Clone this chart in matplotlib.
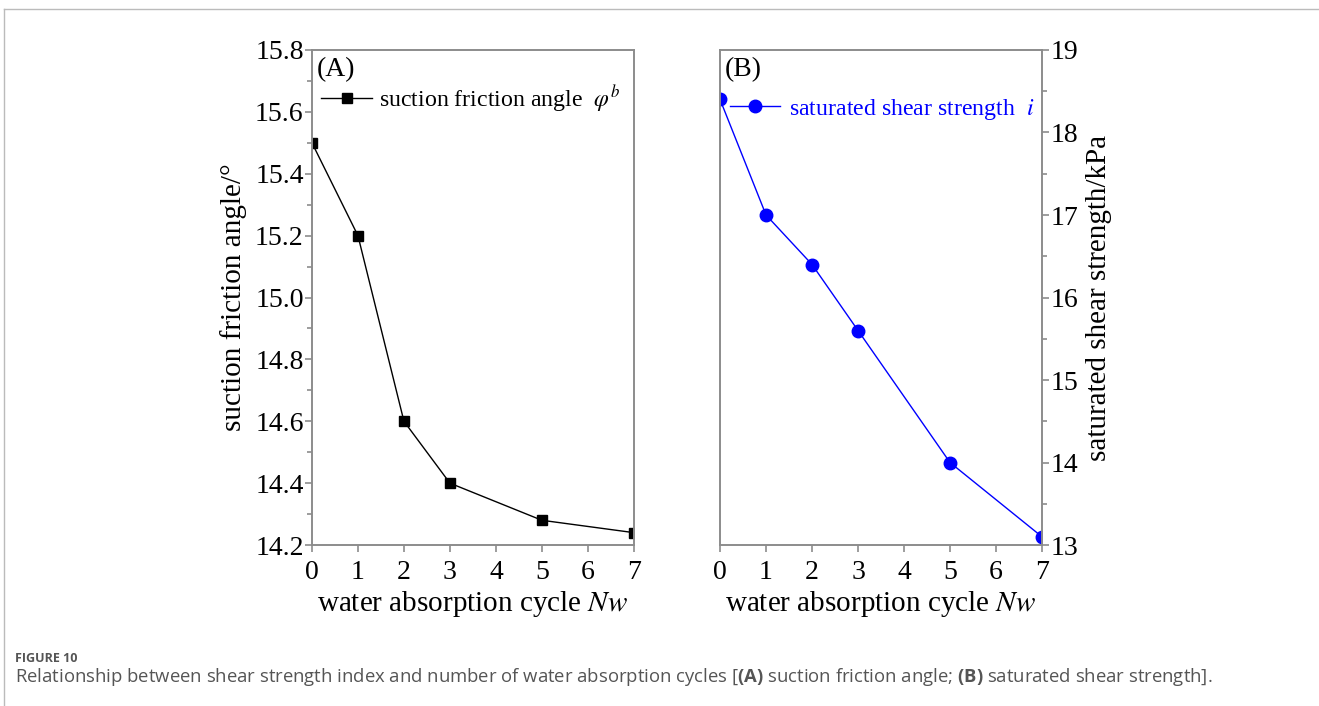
import matplotlib
matplotlib.use("Agg")
import matplotlib.pyplot as plt
from matplotlib.lines import Line2D
from matplotlib.ticker import MultipleLocator

# Daten aus der Abbildung
zyklen = [0, 1, 2, 3, 5, 7]
saug_winkel = [15.5, 15.2, 14.6, 14.4, 14.28, 14.24]
scherfestigkeit = [18.4, 17.0, 16.4, 15.6, 14.0, 13.1]
x_ticks = [0, 1, 2, 3, 4, 5, 6, 7]

plt.rcParams['font.family'] = ['Liberation Serif', 'DejaVu Serif']
plt.rcParams['mathtext.fontset'] = 'stix'
# fuer die Bildunterschrift (fett gesetzte (A)/(B))
plt.rcParams['mathtext.rm'] = 'Open Sans'
plt.rcParams['mathtext.bf'] = 'Open Sans:bold'

GRAU = '#8c8c8c'

fig = plt.figure(figsize=(13.19, 7.06), dpi=100)
ax1 = fig.add_axes([0.2365, 0.2280, 0.2441, 0.7012])
ax2 = fig.add_axes([0.5459, 0.2280, 0.2441, 0.7012])

def achse_stil(ax):
    for s in ax.spines.values():
        s.set_color(GRAU)
        s.set_linewidth(1.4)
    ax.tick_params(which='both', direction='out', color=GRAU, width=1.2,
                   labelsize=20)
    ax.tick_params(axis='y', pad=1)
    ax.tick_params(axis='x', pad=6)
    ax.tick_params(which='major', length=5)
    ax.tick_params(which='minor', length=3.5)
    ax.set_xlim(0, 7)
    ax.set_xticks(x_ticks)
    ax.set_xlabel('water absorption cycle $\\it{Nw}$', fontsize=21, labelpad=3)

# (A) Saugreibungswinkel
ax1.plot(zyklen, saug_winkel, color='black', lw=1, marker='s', ms=7,
         label='suction friction angle  $\\varphi^b$')
achse_stil(ax1)
ax1.set_ylim(14.2, 15.8)
ax1.yaxis.set_major_locator(MultipleLocator(0.2))
ax1.yaxis.set_minor_locator(MultipleLocator(0.1))
ax1.set_ylabel('suction friction angle/°', fontsize=21, labelpad=6)
ax1.text(0.015, 0.985, '(A)', transform=ax1.transAxes, fontsize=20, va='top')
ax1.legend(loc='upper left', bbox_to_anchor=(0.0, 0.952), frameon=False,
           fontsize=17.2, handlelength=2.1, handletextpad=0.3, borderaxespad=0)

# (B) gesaettigte Scherfestigkeit
ax2.plot(zyklen, scherfestigkeit, color='#0000ff', lw=1, marker='o', ms=9,
         label='saturated shear strength  $i$')
achse_stil(ax2)
ax2.set_ylim(13, 19)
ax2.yaxis.set_major_locator(MultipleLocator(1))
ax2.yaxis.set_minor_locator(MultipleLocator(0.5))
ax2.yaxis.tick_right()
ax2.yaxis.set_label_position('right')
ax2.set_ylabel('saturated shear strength/kPa', fontsize=21, labelpad=6)
ax2.text(0.015, 0.985, '(B)', transform=ax2.transAxes, fontsize=20, va='top')
leg = ax2.legend(loc='upper left', bbox_to_anchor=(0.0, 0.925), frameon=False,
                 fontsize=17.2, handlelength=2.1, handletextpad=0.4, borderaxespad=0)
for t in leg.get_texts():
    t.set_color('#0000ff')

# Rahmen und Bildunterschrift
fig.add_artist(Line2D([0.003, 1.0], [0.987, 0.987], color='#bbbbbb', lw=1))
fig.add_artist(Line2D([0.003, 0.003], [0.0, 0.987], color='#bbbbbb', lw=1))
fig.text(0.011, 0.063, 'FIGURE 10', fontsize=9, color='#555555',
         family='Open Sans', fontweight='bold')
fig.text(0.011, 0.034,
         'Relationship between shear strength index and number of water absorption '
         'cycles [$\\mathbf{(A)}$ suction friction angle; $\\mathbf{(B)}$ saturated shear strength].',
         fontsize=13.3, color='#555555', family='Open Sans', math_fontfamily='custom')

fig.savefig('out.png', dpi=100)
